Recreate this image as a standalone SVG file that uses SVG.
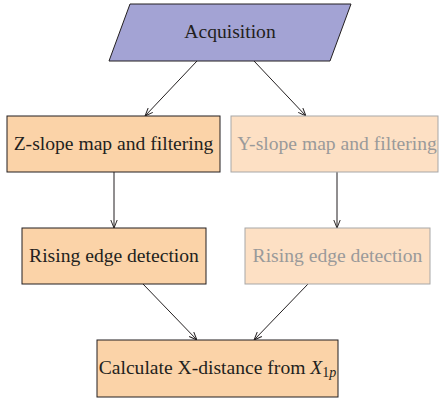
<svg xmlns="http://www.w3.org/2000/svg" width="440" height="400" viewBox="0 0 440 400">
  <style>
    .label { font-family: "Liberation Serif", "Times New Roman", Times, serif; font-size: 19.6px; fill: #231f20; text-anchor: middle; }
    .main { fill: #fbd3a8; stroke: #231f20; stroke-width: 1; }
    .faded { fill: #fde0c4; stroke: #a7a7a7; stroke-width: 1; }
    .dim { fill: #9a9a9a; }
    .edge { stroke: #231f20; stroke-width: 1; fill: none; marker-end: url(#arrow); }
  </style>
  <defs>
    <marker id="arrow" viewBox="0 0 10 10" refX="10" refY="5" markerWidth="8" markerHeight="8" markerUnits="userSpaceOnUse" orient="auto">
      <path d="M0,1 L10,5 L0,9" fill="none" stroke="#231f20" stroke-width="1.2"/>
    </marker>
  </defs>
  <rect width="440" height="400" fill="#ffffff"/>

  <g id="connectors">
    <line class="edge" x1="197" y1="61" x2="145" y2="116"/>
    <line class="edge" x1="254" y1="61" x2="306" y2="116"/>
    <line class="edge" x1="114" y1="172" x2="114" y2="228"/>
    <line class="edge" x1="337" y1="172" x2="337" y2="228"/>
    <line class="edge" x1="143" y1="284" x2="197" y2="340"/>
    <line class="edge" x1="308" y1="284" x2="254" y2="340"/>
  </g>

  <g id="acquisition">
    <polygon points="130,4 351,4 330,61 109,61" fill="#a3a3d4" stroke="#231f20" stroke-width="1"/>
    <text class="label" x="230" y="38">Acquisition</text>
  </g>

  <g id="z-slope">
    <rect class="main" x="7" y="116" width="213" height="56"/>
    <text class="label" x="113.5" y="150">Z-slope map and filtering</text>
  </g>

  <g id="y-slope">
    <rect class="faded" x="231" y="116" width="207" height="56"/>
    <text class="label dim" x="337" y="150">Y-slope map and filtering</text>
  </g>

  <g id="z-rising">
    <rect class="main" x="22" y="228" width="184" height="56"/>
    <text class="label" x="114" y="262">Rising edge detection</text>
  </g>

  <g id="y-rising">
    <rect class="faded" x="245" y="228" width="185" height="56"/>
    <text class="label dim" x="337.5" y="262">Rising edge detection</text>
  </g>

  <g id="x-distance">
    <rect class="main" x="97" y="340" width="241" height="57"/>
    <text class="label" x="217.5" y="374">Calculate X-distance from <tspan font-style="italic">X</tspan><tspan font-size="14" dy="3">1</tspan><tspan font-size="14" font-style="italic">p</tspan></text>
  </g>
</svg>
